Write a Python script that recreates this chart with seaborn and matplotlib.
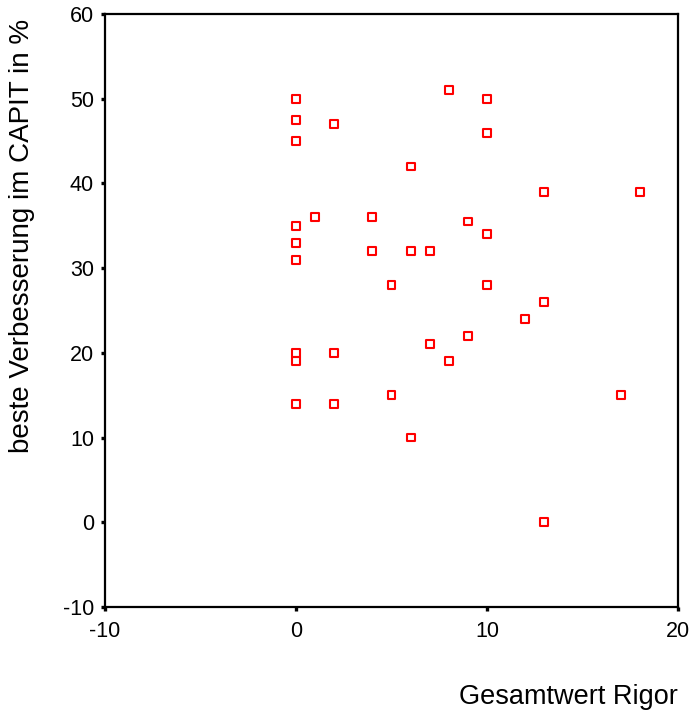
import matplotlib
matplotlib.use("Agg")
import matplotlib.pyplot as plt
import seaborn as sns
import pandas as pd

# Gesamtwert Rigor vs. beste Verbesserung im CAPIT (%)
rigor = [0, 0, 0, 2, 8, 10, 10, 6, 13, 18,
         0, 1, 4, 9, 10, 0, 0, 4, 6, 7,
         5, 10, 13, 12, 9, 7, 8, 0, 0, 2,
         0, 2, 5, 17, 6, 13]
verbesserung = [50, 47.5, 45, 47, 51, 50, 46, 42, 39, 39,
                35, 36, 36, 35.5, 34, 33, 31, 32, 32, 32,
                28, 28, 26, 24, 22, 21, 19, 20, 19, 20,
                14, 14, 15, 15, 10, 0]
x_ticks = [-10, 0, 10, 20]
y_ticks = [-10, 0, 10, 20, 30, 40, 50, 60]

df = pd.DataFrame({"rigor": rigor, "verbesserung": verbesserung})

sns.set_style("white")
plt.rcParams["font.family"] = ["Liberation Sans", "DejaVu Sans"]

fig = plt.figure(figsize=(6.91, 7.13), dpi=100)
ax = fig.add_axes([105 / 691, 1 - 607 / 713, 573 / 691, 593 / 713])

sns.scatterplot(data=df, x="rigor", y="verbesserung", ax=ax,
                marker="s", s=32, facecolor="none", edgecolor="#ff0000",
                linewidth=1.5, zorder=3)

ax.set_xlim(-10, 20)
ax.set_ylim(-10, 60)
ax.set_xticks(x_ticks)
ax.set_yticks(y_ticks)
ax.set_xticklabels([str(v) for v in x_ticks])
ax.set_yticklabels([str(v) for v in y_ticks])

for sp in ax.spines.values():
    sp.set_visible(True)
    sp.set_color("black")
    sp.set_linewidth(1.6)

ax.tick_params(axis="both", direction="out", length=3, width=2.4,
               color="black", labelsize=15.5, labelcolor="black",
               bottom=True, left=True)
ax.tick_params(axis="x", pad=7)
ax.tick_params(axis="y", pad=5)

ax.set_xlabel("")
ax.set_ylabel("beste Verbesserung im CAPIT in %", fontsize=20, color="black")
ax.yaxis.set_label_coords((35 - 105) / 573, (607 - 236) / 593)
fig.text(678 / 691, 1 - 697 / 713, "Gesamtwert Rigor", ha="right",
         va="center", fontsize=19.5, color="black")

fig.savefig("out.png", dpi=100)
